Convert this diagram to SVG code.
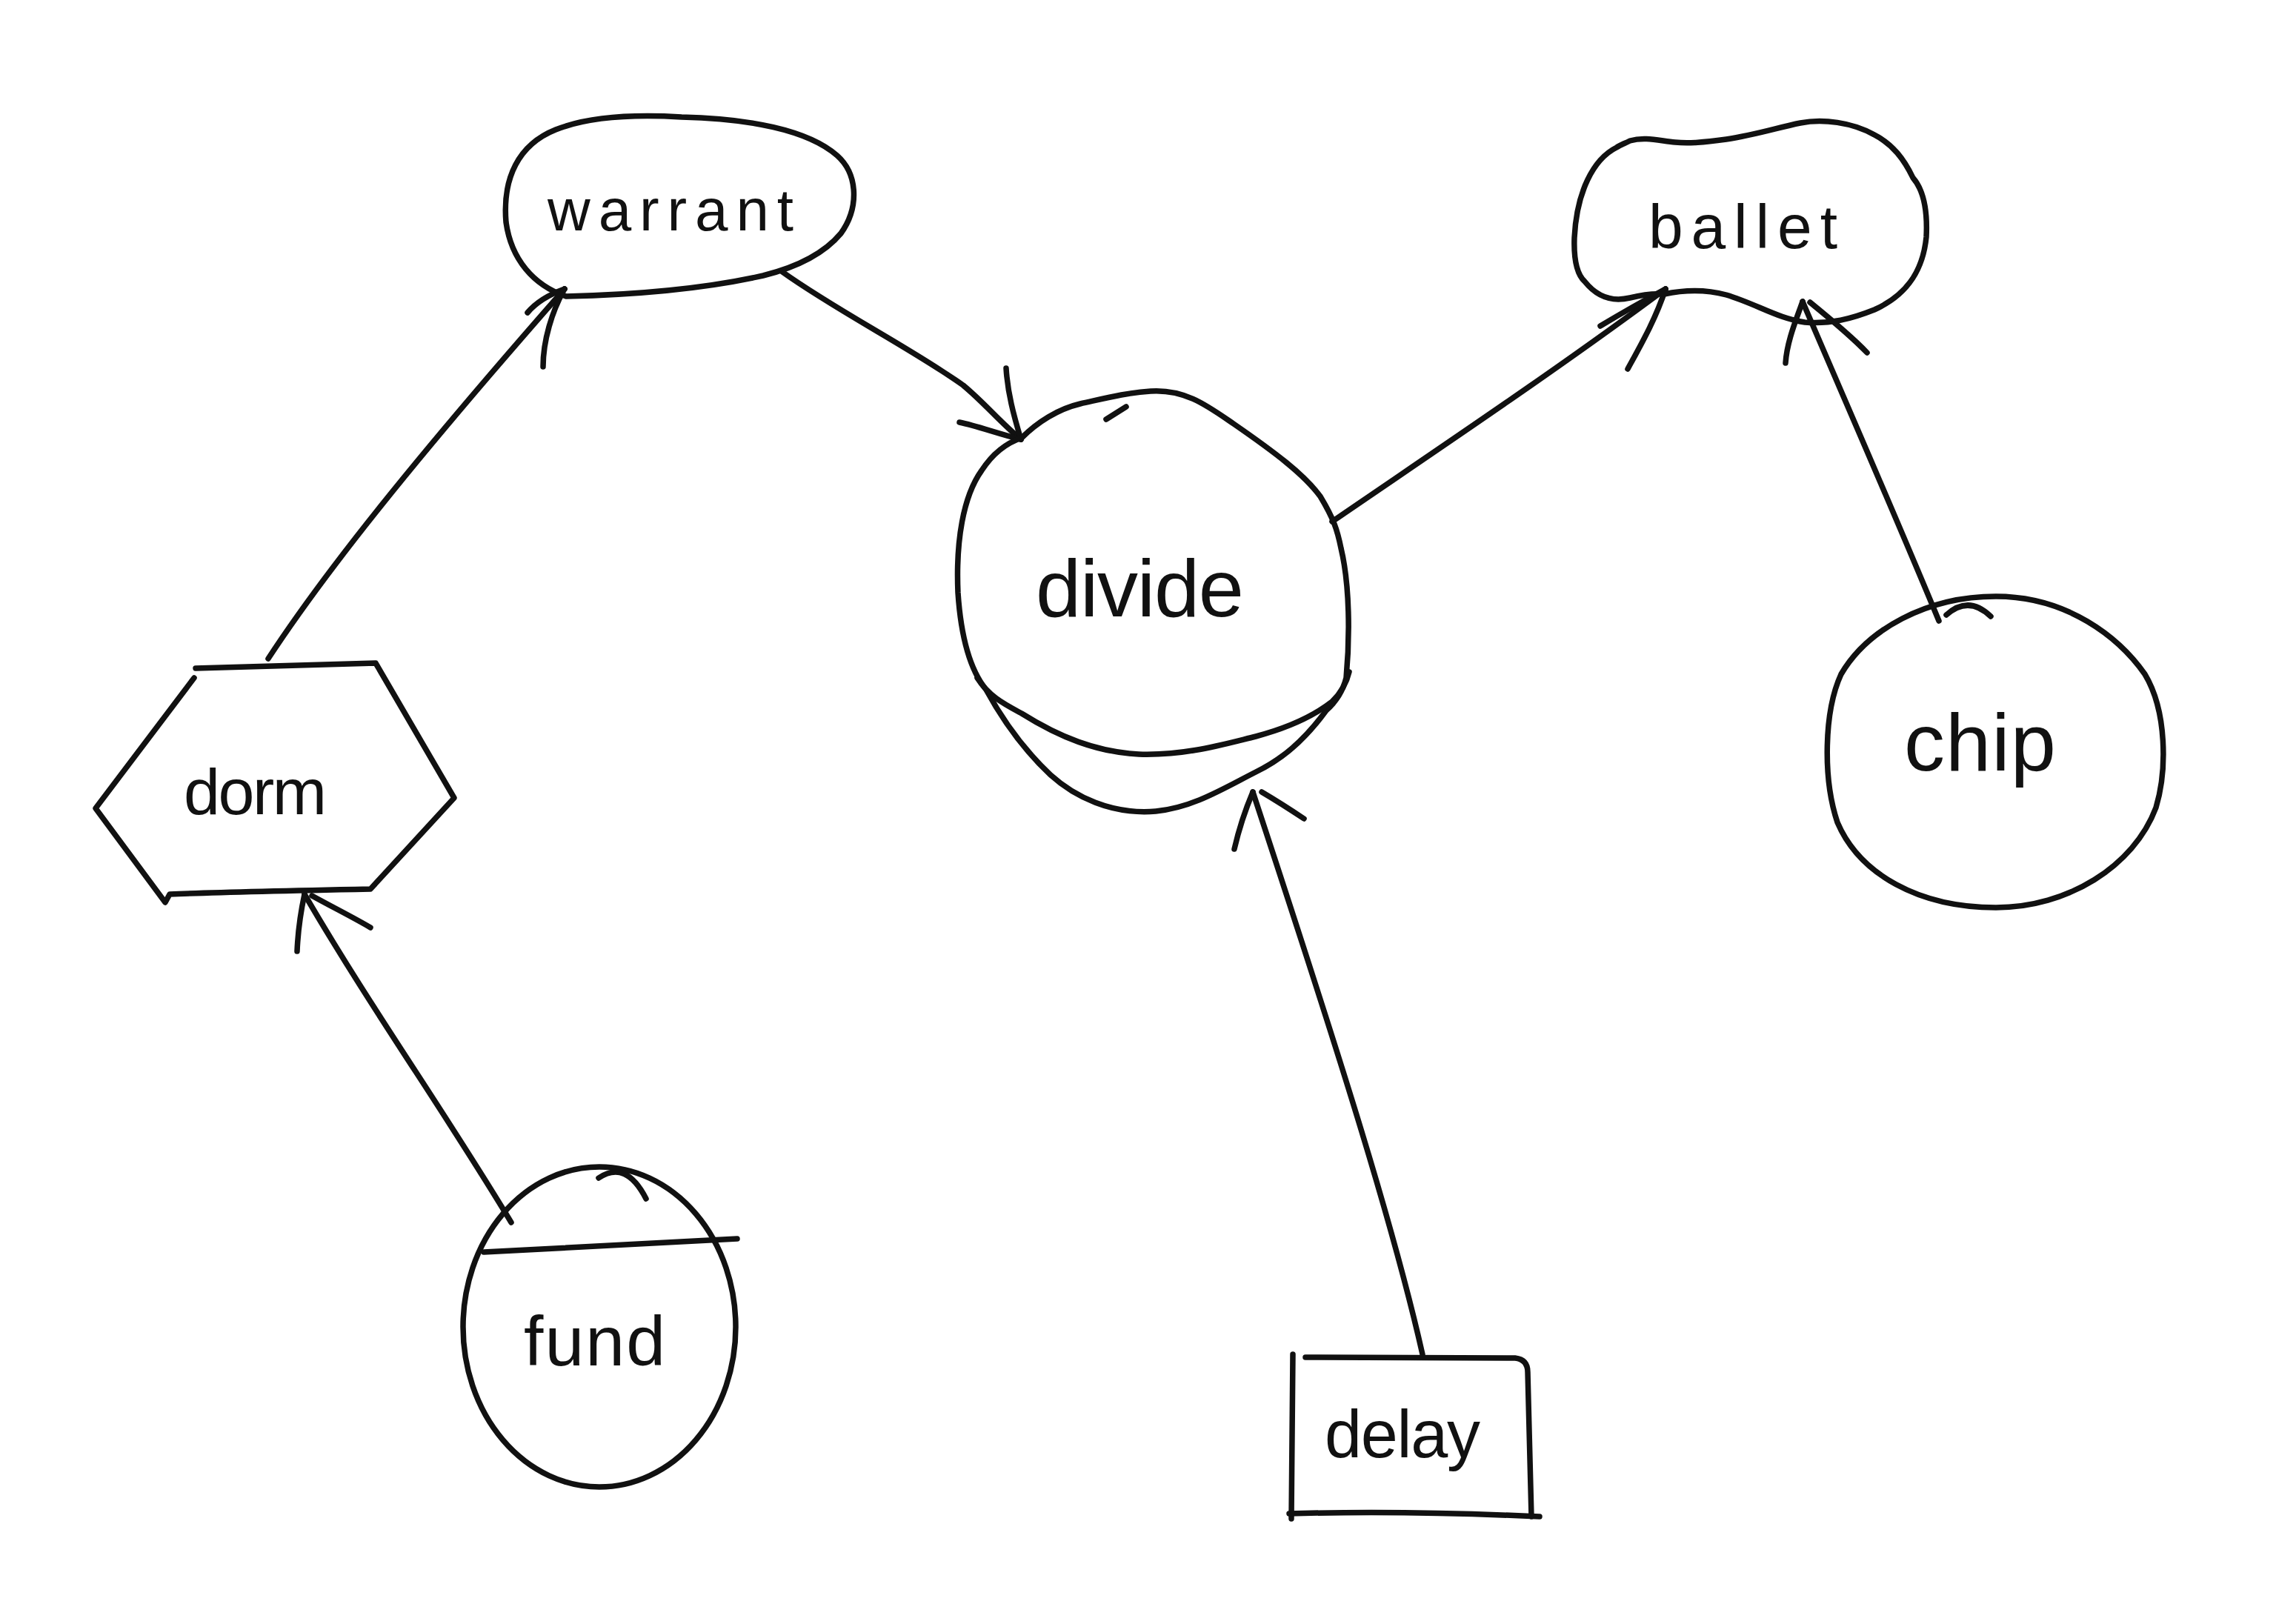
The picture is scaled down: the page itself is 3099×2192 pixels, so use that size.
<svg xmlns="http://www.w3.org/2000/svg" width="3099" height="2192" viewBox="0 0 3099 2192">
<style>
.s{fill:none;stroke:#111;stroke-width:7.5;stroke-linecap:round;stroke-linejoin:round}
.t{font-family:"Liberation Sans","DejaVu Sans",sans-serif;fill:#111;text-anchor:start}
</style>
<rect width="3099" height="2192" fill="#fff"/>
<g id="edges">
  <g id="e-dorm-warrant">
    <path class="s" d="M362,889 C440,770 560,620 762,390"/>
    <path class="s" d="M762,390 C740,398 722,410 712,422"/>
    <path class="s" d="M762,390 C745,420 733,460 733,495"/>
  </g>
  <g id="e-warrant-divide">
    <path class="s" d="M1056,367 C1130,420 1230,470 1300,520 C1330,545 1350,570 1378,593"/>
    <path class="s" d="M1378,593 C1345,585 1320,575 1295,570"/>
    <path class="s" d="M1378,593 C1368,560 1360,530 1358,497"/>
  </g>
  <g id="e-divide-ballet">
    <path class="s" d="M1798,704 C1950,600 2100,500 2248,390"/>
    <path class="s" d="M2248,390 C2220,405 2185,425 2160,440"/>
    <path class="s" d="M2248,390 C2235,430 2215,465 2197,498"/>
  </g>
  <g id="e-chip-ballet">
    <path class="s" d="M2617,838 C2560,700 2490,540 2433,407"/>
    <path class="s" d="M2433,407 C2425,430 2412,460 2410,490"/>
    <path class="s" d="M2443,408 C2470,430 2500,455 2520,476"/>
  </g>
  <g id="e-fund-dorm">
    <path class="s" d="M690,1650 C600,1500 500,1360 411,1207"/>
    <path class="s" d="M411,1207 C405,1235 402,1260 401,1284"/>
    <path class="s" d="M421,1209 C450,1225 480,1240 500,1252"/>
  </g>
  <g id="e-delay-divide">
    <path class="s" d="M1920,1828 C1880,1650 1800,1400 1691,1069"/>
    <path class="s" d="M1691,1069 C1680,1095 1672,1120 1666,1146"/>
    <path class="s" d="M1703,1069 C1725,1082 1745,1095 1760,1105"/>
  </g>
</g>
<g id="node-warrant">
  <path class="s" d="M764,400 C720,385 690,350 683,300 C678,240 700,195 750,175 C800,155 870,155 920,158 C1010,160 1090,175 1130,210 C1158,235 1160,280 1135,315 C1110,345 1070,362 1030,372 C950,390 850,398 764,400 Z"/>
  <text class="t" x="739" y="311" font-size="80" textLength="332" lengthAdjust="spacing">warrant</text>
</g>
<g id="node-ballet">
  <path class="s" d="M2182,199 C2150,215 2128,260 2125,321 C2124,350 2128,370 2139,380 C2155,400 2175,408 2200,402 C2220,397 2235,396 2246,397 C2270,392 2300,390 2330,398 C2370,410 2400,430 2436,435 C2470,438 2500,430 2530,418 C2570,400 2595,370 2600,320 C2602,280 2595,255 2582,240 C2570,215 2555,195 2530,182 C2500,165 2460,160 2430,166 C2400,172 2370,182 2330,188 C2300,192 2280,194 2261,192 C2240,190 2220,184 2200,190 C2192,194 2186,196 2182,199 Z"/>
  <text class="t" x="2225" y="335" font-size="84" textLength="255" lengthAdjust="spacing">ballet</text>
</g>
<g id="node-divide">
  <path class="s" d="M1331,931 C1310,905 1297,860 1293,800 C1290,730 1300,670 1325,635 C1340,612 1358,598 1379,591 C1400,570 1428,552 1458,545 C1490,538 1520,530 1553,528 C1600,525 1630,548 1665,572 C1720,610 1760,640 1782,670 C1800,700 1805,715 1810,740 C1822,790 1822,860 1817,915 C1812,935 1800,950 1790,959 C1760,1000 1730,1025 1695,1042 C1650,1065 1610,1090 1560,1095 C1500,1100 1450,1075 1418,1046 C1385,1015 1355,975 1331,931 Z"/>
  <path class="s" d="M1319,915 C1335,940 1355,950 1379,963 C1430,995 1480,1015 1537,1018 C1600,1020 1650,1005 1695,994 C1740,982 1775,965 1798,947 C1810,935 1818,920 1821,907"/>
  <path class="s" d="M1493,566 L1520,549"/>
  <text class="t" x="1398" y="832" font-size="110" textLength="281" lengthAdjust="spacing">divide</text>
</g>
<g id="node-dorm">
  <path class="s" d="M264,902 C340,900 420,898 507,895 L613,1077 L500,1200 C400,1202 300,1204 229,1207 L223,1218 L129,1091 L262,915"/>
  <text class="t" x="248" y="1099" font-size="88" textLength="193" lengthAdjust="spacing">dorm</text>
</g>
<g id="node-chip">
  <path class="s" d="M2694,805 C2790,805 2860,860 2895,910 C2925,960 2925,1040 2910,1090 C2880,1170 2790,1225 2694,1225 C2590,1225 2510,1180 2480,1110 C2460,1050 2462,960 2485,910 C2520,850 2600,805 2694,805 Z"/>
  <path class="s" d="M2627,830 Q2657,803 2687,832"/>
  <text class="t" x="2570" y="1040" font-size="110" textLength="205" lengthAdjust="spacing">chip</text>
</g>
<g id="node-fund">
  <ellipse class="s" cx="809" cy="1791" rx="184" ry="216"/>
  <path class="s" d="M653,1690 L995,1672"/>
  <path class="s" d="M808,1590 Q845,1565 872,1618"/>
  <text class="t" x="707" y="1843" font-size="95" textLength="191" lengthAdjust="spacing">fund</text>
</g>
<g id="node-delay">
  <path class="s" d="M1745,1828 L1743,2050"/>
  <path class="s" d="M1762,1832 L2045,1833 Q2062,1835 2062,1852 L2067,2047"/>
  <path class="s" d="M1740,2043 C1850,2040 1970,2042 2078,2047"/>
  <text class="t" x="1788" y="1967" font-size="90" textLength="210" lengthAdjust="spacing">delay</text>
</g>
</svg>
